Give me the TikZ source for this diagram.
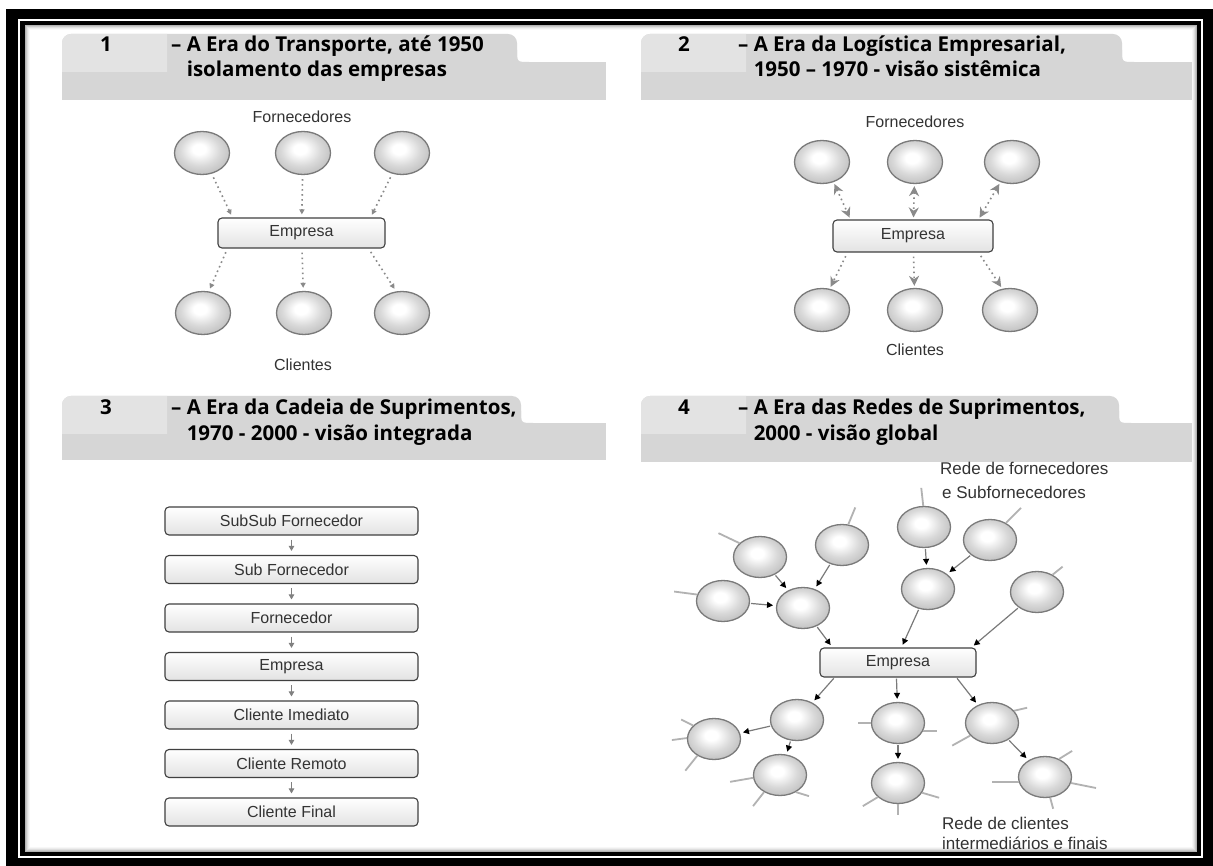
\documentclass[tikz,border=0pt]{standalone}
\usepackage{fontspec}
\setmainfont{Liberation Sans}
\newfontfamily\hdrfont{Open Sans}
\usetikzlibrary{shapes.geometric,arrows.meta,calc}

\definecolor{tabgray}{HTML}{D6D6D6}
\definecolor{tabcell}{HTML}{E3E3E3}
\definecolor{labelgray}{HTML}{333333}
\definecolor{rimgray}{HTML}{7A7A7A}
\definecolor{linkgray}{HTML}{8A8A8A}
\definecolor{tailgray}{HTML}{B2B2B2}
\definecolor{netgray}{HTML}{7A7A7A}

% soft sphere look for the round nodes
\pgfdeclareradialshading{ball}{\pgfpoint{-3bp}{5bp}}{color(0bp)=(white); color(6bp)=(white); color(18bp)=(gray!30); color(34bp)=(gray!60); color(50bp)=(gray!82)}

\tikzset{
  ball/.style={ellipse, draw=rimgray, line width=1.3pt, shading=ball,
    minimum width=55, minimum height=43, inner sep=0pt},
  smallball/.style={ball, minimum width=53, minimum height=41},
  boxnode/.style={draw=gray!50!black, line width=1.1pt, rounded corners=4pt,
    top color=white, bottom color=gray!22, inner sep=0pt,
    font=\fontsize{16}{16}\selectfont, text=labelgray},
  lbl/.style={font=\fontsize{16}{16}\selectfont, text=labelgray, inner sep=0pt},
  netlbl/.style={font=\fontsize{17}{17}\selectfont, text=labelgray, inner sep=0pt, anchor=base west},
  hdr/.style={font=\hdrfont\bfseries\fontsize{20.5}{24}\selectfont, text=black, inner sep=0pt, anchor=base west},
  hnum/.style={font=\hdrfont\bfseries\fontsize{20.5}{24}\selectfont, text=black, inner sep=0pt, anchor=base},
  dotlink/.style={draw=linkgray, line width=1.6pt, dash pattern=on 1.6pt off 3.4pt,
    -{Triangle[length=5pt,width=5pt]}, shorten >=3pt, shorten <=4pt},
  twolink/.style={draw=linkgray, line width=1.6pt, dash pattern=on 1.6pt off 3.4pt,
    {Stealth[length=10pt,width=10pt]}-{Stealth[length=10pt,width=10pt]}, shorten >=2pt, shorten <=2pt},
  biglink/.style={draw=linkgray, line width=1.6pt, dash pattern=on 1.6pt off 3.4pt,
    -{Stealth[length=10pt,width=10pt]}, shorten >=2pt, shorten <=4pt},
  chainlink/.style={draw=gray, line width=1pt, -{Triangle[length=5pt,width=5.5pt]},
    shorten >=4pt, shorten <=4pt},
  netlink/.style={draw=netgray, line width=1.2pt, -{Triangle[length=6pt,width=6pt,color=black]},
    shorten >=3pt, shorten <=1pt},
  tail/.style={draw=tailgray, line width=1.8pt},
}

% header tab: left x, top y, step x, step y, right x, bottom y
\newcommand\drawtab[6]{%
  \fill[tabgray] (#1,#4) rectangle (#5,#6);
  \fill[tabgray,rounded corners=9] (#1,#4+14) -- (#1,#2) -- (#3,#2) -- (#3,#4+14) -- cycle;
  \fill[tabgray] (#3,#4-12) .. controls (#3,#4) .. (#3+12,#4) -- (#3,#4) -- cycle;
  \begin{scope}
    \clip (#1,#2) rectangle (#1+105,#2+38);
    \fill[tabcell,rounded corners=9] (#1,#2) rectangle (#1+200,#2+100);
  \end{scope}
}

\begin{document}
\begin{tikzpicture}[x=1pt,y=-1pt]
\useasboundingbox (0,0) rectangle (1213,866);
\fill[white] (0,0) rectangle (1213,866);

% double black frame with an inner shadow
\fill[black] (6,9) rectangle (1213,866);
\fill[white] (18,19) rectangle (1203,858);
\fill[black] (20,21) rectangle (1201,856);
\fill[white] (25,25) rectangle (1197,852);
\draw[gray!60, line width=1pt] (25.5,25.5) rectangle (1196.5,851.5);
\draw[gray!42, line width=1pt] (26.5,26.5) rectangle (1195.5,850.5);
\draw[gray!26, line width=1pt] (27.5,27.5) rectangle (1194.5,849.5);
\draw[gray!14, line width=1pt] (28.5,28.5) rectangle (1193.5,848.5);
\draw[gray!6, line width=1pt] (29.5,29.5) rectangle (1192.5,847.5);

% ---------- headers ----------
\drawtab{62}{34}{517}{62}{606}{100}
\drawtab{641}{34}{1122}{62}{1192}{100}
\drawtab{62}{396}{521}{423}{606}{460}
\drawtab{641}{396}{1119}{423}{1192}{462}

\node[hnum] (n1) at (106,52) {1};
\node[hdr] (h1a) at (171,52) {– A Era do Transporte, até 1950};
\node[hdr] (h1b) at (171,77) {\phantom{– }isolamento das empresas};

\node[hnum] (n2) at (684,52) {2};
\node[hdr] (h2a) at (738,52) {– A Era da Logística Empresarial,};
\node[hdr] (h2b) at (738,77) {\phantom{– }1950 – 1970 - visão sistêmica};

\node[hnum] (n3) at (106,415) {3};
\node[hdr] (h3a) at (171,415) {– A Era da Cadeia de Suprimentos,};
\node[hdr] (h3b) at (171,440) {\phantom{– }1970 - 2000 - visão integrada};

\node[hnum] (n4) at (684,415) {4};
\node[hdr] (h4a) at (738,415) {– A Era das Redes de Suprimentos,};
\node[hdr] (h4b) at (738,440) {\phantom{– }2000 - visão global};

% ---------- panel 1: isolated company ----------
\node[lbl] (p1f) at (302,117) {Fornecedores};
\node[ball] (p1a) at (202,153) {};
\node[ball] (p1b) at (303,153) {};
\node[ball] (p1c) at (402,153) {};
\node[boxnode, minimum width=167, minimum height=30] (p1e) at (301.5,233) {Empresa};
\node[ball] (p1x) at (203,313) {};
\node[ball] (p1y) at (304,313) {};
\node[ball] (p1z) at (402,313) {};
\node[lbl] (p1k) at (303,365) {Clientes};

\draw[dotlink] (p1a.-65) -- ([xshift=15]p1e.north west);
\draw[dotlink] (p1b) -- (p1e);
\draw[dotlink] (p1c.-115) -- ([xshift=-15]p1e.north east);
\draw[dotlink] ([xshift=10]p1e.south west) -- (p1x.75);
\draw[dotlink] (p1e) -- (p1y);
\draw[dotlink] ([xshift=-17]p1e.south east) -- (p1z.105);

% ---------- panel 2: systemic view ----------
\node[lbl] (p2f) at (915,122) {Fornecedores};
\node[ball] (p2a) at (822,162) {};
\node[ball] (p2b) at (915,162) {};
\node[ball] (p2c) at (1012,162) {};
\node[boxnode, minimum width=160, minimum height=32] (p2e) at (913,236) {Empresa};
\node[ball] (p2x) at (822,310) {};
\node[ball] (p2y) at (915,310) {};
\node[ball] (p2z) at (1010,310) {};
\node[lbl] (p2k) at (915,350) {Clientes};

\draw[twolink] (p2a.-60) -- ([xshift=18]p2e.north west);
\draw[twolink] (p2b) -- (p2e);
\draw[twolink] (p2c.-120) -- ([xshift=-15]p2e.north east);
\draw[biglink] ([xshift=15]p2e.south west) -- (p2x.70);
\draw[biglink] (p2e) -- (p2y);
\draw[biglink] ([xshift=-15]p2e.south east) -- (p2z.110);

% ---------- panel 3: supply chain ----------
\begin{scope}[every node/.style={boxnode, minimum width=253, minimum height=28}]
  \node (c1) at (291.5,521) {SubSub Fornecedor};
  \node (c2) at (291.5,569.5) {Sub Fornecedor};
  \node (c3) at (291.5,618) {Fornecedor};
  \node (c4) at (291.5,666.5) {Empresa};
  \node (c5) at (291.5,715) {Cliente Imediato};
  \node (c6) at (291.5,763.5) {Cliente Remoto};
  \node (c7) at (291.5,812) {Cliente Final};
\end{scope}
\foreach \a/\b in {c1/c2,c2/c3,c3/c4,c4/c5,c5/c6,c6/c7}
  \draw[chainlink] (\a) -- (\b);

% ---------- panel 4: supply network ----------
\node[netlbl] (rf1) at (940,474) {Rede de fornecedores};
\node[netlbl] (rf2) at (942,498) {e Subfornecedores};

\node[smallball] (nA) at (760,557) {};
\node[smallball] (nB) at (842,545) {};
\node[smallball] (nC) at (723,601) {};
\node[smallball] (nD) at (803,608) {};
\node[smallball] (nE) at (924,527) {};
\node[smallball] (nF) at (928,589) {};
\node[smallball] (nG) at (990,540) {};
\node[smallball] (nH) at (1037,592) {};
\node[boxnode, minimum width=156, minimum height=29] (emp) at (898,662.5) {Empresa};
\node[smallball] (nI) at (797,720) {};
\node[smallball] (nJ) at (714,739) {};
\node[smallball] (nK) at (780,775) {};
\node[smallball] (nL) at (898,723) {};
\node[smallball] (nM) at (898,783) {};
\node[smallball] (nN) at (992,723) {};
\node[smallball] (nO) at (1045,777) {};

% loose ends of the network
\draw[tail] (nA.146) -- +(-21,-10);
\draw[tail] (nB.73) -- +(7,-17);
\draw[tail] (nC.166) -- +(-23,-3);
\draw[tail] (nE.92) -- +(-2,-18);
\draw[tail] (nG.47) -- +(15,-15);
\draw[tail] (nH.48) -- +(10,-8);
\draw[tail] (nJ.147) -- +(-12,-6);
\draw[tail] (nJ.178) -- +(-15,2);
\draw[tail] (nJ.225) -- +(-12,15);
\draw[tail] (nK.186) -- +(-23,4);
\draw[tail] (nK.227) -- +(-11,14);
\draw[tail] (nK.313) -- +(13,4);
\draw[tail] (nL.180) -- +(-13,0);
\draw[tail] (nL.342) -- +(14,0);
\draw[tail] (nM.215) -- +(-15,9);
\draw[tail] (nM.270) -- +(0,11);
\draw[tail] (nM.338) -- +(17,5);
\draw[tail] (nN.29) -- +(13,-3);
\draw[tail] (nN.210) -- +(-18,10);
\draw[tail] (nO.52) -- +(13,-8);
\draw[tail] (nO.347) -- +(25,5);
\draw[tail] (nO.191) -- +(-27,0);
\draw[tail] (nO.284) -- +(3,11);

% flows through the network
\draw[netlink] (nA) -- (nD);
\draw[netlink] (nB) -- (nD);
\draw[netlink] (nC) -- (nD);
\draw[netlink] (nD) -- ([xshift=13]emp.north west);
\draw[netlink] (nE) -- (nF);
\draw[netlink] (nG) -- (nF);
\draw[netlink] (nF) -- ([xshift=82]emp.north west);
\draw[netlink] (nH) -- ([xshift=152]emp.north west);
\draw[netlink] ([xshift=15]emp.south west) -- (nI);
\draw[netlink] (nI) -- (nJ);
\draw[netlink] (nI) -- (nK);
\draw[netlink] ([xshift=77]emp.south west) -- (nL);
\draw[netlink] (nL) -- (nM);
\draw[netlink] ([xshift=137]emp.south west) -- (nN);
\draw[netlink] (nN) -- (nO);

\node[netlbl] (rc1) at (942,829) {Rede de clientes};
\node[netlbl] (rc2) at (942,849) {intermediários e finais};
\end{tikzpicture}
\end{document}
